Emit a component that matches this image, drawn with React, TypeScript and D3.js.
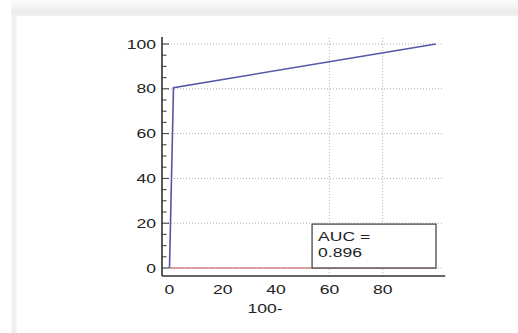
import * as React from 'react';
import * as d3 from 'd3';

// ROC curve points (100-specificity, sensitivity)
const fpr = [0, 1.5, 100];
const tpr = [0, 80.5, 100];
const refX = [0, 100];
const refY = [0, 0];
const yTicks = [0, 20, 40, 60, 80, 100];
const yMinor = d3.range(0, 101, 5);
const xTicks = [0, 20, 40, 60, 80];
const xGrid = [60, 80];
const xTitle = "100-";
const aucLines = ["AUC =", "0.896"];

const W = 518;
const H = 333;
const font = "'Liberation Sans', Arial, sans-serif";
const stretch = 1.35; // source picture is widened horizontally

function Label(props: { x: number; y: number; anchor?: string; dy?: string; children: any }) {
    return (
        <text transform={`translate(${props.x},${props.y}) scale(${stretch},1)`}
              textAnchor={props.anchor || "start"} dy={props.dy} fontSize={13} fill="#222">
            {props.children}
        </text>
    );
}

export default function App() {
    const x = d3.scaleLinear().domain([0, 100]).range([169.5, 436]);
    const y = d3.scaleLinear().domain([0, 100]).range([268, 44]);
    const axisX = 162;
    const axisY = 276;
    const plotRight = x(102.7);

    const line = d3.line<number>()
        .x((d, i) => x(fpr[i]))
        .y((d, i) => y(tpr[i]));
    const refLine = d3.line<number>()
        .x((d, i) => x(refX[i]))
        .y((d, i) => y(refY[i]));

    const boxX0 = x(53.5), boxX1 = x(100), boxY0 = y(19.6), boxY1 = y(0);

    return (
        <svg width={W} height={H} style={{position: "absolute", left: 0, top: 0, display: "block"}}
             fontFamily={font}>
            <defs>
                <linearGradient id="topShade" x1="0" y1="0" x2="0" y2="1">
                    <stop offset="0" stopColor="#fbfbfb"/>
                    <stop offset="0.85" stopColor="#ebebeb"/>
                    <stop offset="1" stopColor="#f3f3f3"/>
                </linearGradient>
                <linearGradient id="leftShade" x1="0" y1="0" x2="1" y2="0">
                    <stop offset="0" stopColor="#f7f7f7"/>
                    <stop offset="0.5" stopColor="#ececec"/>
                    <stop offset="1" stopColor="#f7f7f7"/>
                </linearGradient>
            </defs>
            <rect width={W} height={H} fill="#fff"/>
            <rect x={11} y={0} width={W - 11} height={16} fill="url(#topShade)"/>
            <rect x={11} y={16} width={6} height={H - 16} fill="url(#leftShade)"/>

            {/* horizontal grid */}
            {yTicks.map(t => (
                <line key={"gy" + t} x1={axisX} x2={plotRight} y1={y(t)} y2={y(t)}
                      stroke="#9a9a9a" strokeWidth={0.8} strokeDasharray="1,2"/>
            ))}
            {/* vertical grid */}
            {xGrid.map(t => (
                <line key={"gx" + t} x1={x(t)} x2={x(t)} y1={y(102.7)} y2={axisY}
                      stroke="#9a9a9a" strokeWidth={0.8} strokeDasharray="1,2"/>
            ))}

            <path d={refLine(refX) || ""} fill="none" stroke="#c84a4a" strokeWidth={1}/>
            <path d={line(fpr) || ""} fill="none" stroke="#5656a8" strokeWidth={1.6}/>

            {/* AUC box */}
            <rect x={boxX0} y={boxY0} width={boxX1 - boxX0} height={boxY1 - boxY0}
                  fill="#fff" stroke="#555" strokeWidth={1.4}/>
            {aucLines.map((s, i) => (
                <Label key={s} x={boxX0 + 6} y={boxY0 + 16.5 + i * 16.5}>{s}</Label>
            ))}

            {/* axes */}
            <line x1={axisX} x2={axisX} y1={37} y2={axisY} stroke="#333" strokeWidth={1.6}/>
            <line x1={axisX} x2={plotRight + 2} y1={axisY} y2={axisY} stroke="#333" strokeWidth={1.6}/>
            {yMinor.map(t => (
                <line key={"ym" + t} x1={axisX} x2={axisX + (t % 20 === 0 ? 7 : 4.5)} y1={y(t)} y2={y(t)}
                      stroke="#333" strokeWidth={1}/>
            ))}
            {yTicks.map(t => (
                <Label key={"yl" + t} x={axisX - 6} y={y(t)} dy="0.35em" anchor="end">{t}</Label>
            ))}
            {xTicks.map(t => (
                <Label key={"xl" + t} x={x(t)} y={axisY + 17.5} anchor="middle">{t}</Label>
            ))}
            <Label x={265} y={313} anchor="middle">{xTitle}</Label>
        </svg>
    );
}
